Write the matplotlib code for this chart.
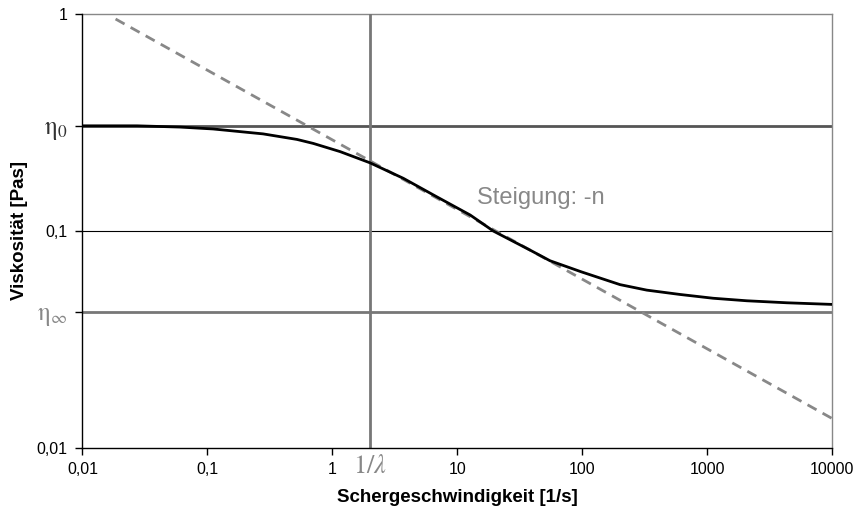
import matplotlib
matplotlib.use("Agg")
import matplotlib.pyplot as plt
from matplotlib.ticker import FixedLocator, NullLocator

plt.rcParams['font.family'] = ['Liberation Sans', 'DejaVu Sans']
plt.rcParams['mathtext.fontset'] = 'stix'

# Data
shear_rate = [0.01, 0.0273, 0.0603, 0.111, 0.279, 0.521, 0.704, 1.153, 2.0, 3.70,
              6.85, 12.7, 19.45, 38.3, 55.3, 98.6, 201, 329, 607, 1116,
              2080, 4346, 10000]
viscosity = [0.305, 0.305, 0.301, 0.295, 0.280, 0.264, 0.253, 0.232, 0.206, 0.1747,
             0.1436, 0.1183, 0.0998, 0.0815, 0.0728, 0.0647, 0.0565, 0.0533,
             0.0509, 0.0489, 0.0476, 0.0466, 0.0458]
powerlaw_x = [0.0184, 10000]
powerlaw_y = [0.948, 0.01365]
eta0 = 0.305
eta_inf = 0.0423
inv_lambda = 2.0

xticks = [0.01, 0.1, 1, 10, 100, 1000, 10000]
xticklabels = ['0,01', '0,1', '1', '10', '100', '1000', '10000']
yticks = [0.01, eta_inf, 0.1, eta0, 1]
yticklabels = ['0,01', r'$\mathrm{\eta}_{\infty}$', '0,1', r'$\mathrm{\eta}_0$', '1']

fig = plt.figure(figsize=(8.62, 5.16), dpi=100)
ax = fig.add_axes([0.0957, 0.1323, 0.8695, 0.8406])
ax.set_xscale('log')
ax.set_yscale('log')
ax.set_xlim(0.01, 10000)
ax.set_ylim(0.01, 1)

ax.axhline(0.1, color='black', lw=0.8, zorder=1)
ax.axhline(1, color='#888888', lw=1.0, zorder=1, clip_on=False)
ax.axhline(eta0, color='#555555', lw=2, zorder=2)
ax.axhline(eta_inf, color='#777777', lw=2, zorder=2)
ax.axvline(inv_lambda, color='#777777', lw=2, zorder=2)

ax.plot(powerlaw_x, powerlaw_y, color='#888888', lw=2, ls=(0, (3.7, 2.5)), zorder=3)
ax.plot(shear_rate, viscosity, color='black', lw=2, zorder=4)

ax.text(14.4, 0.1417, 'Steigung: -n', color='#888888', fontsize=17, va='center', ha='left')

ax.xaxis.set_major_locator(FixedLocator(xticks))
ax.xaxis.set_minor_locator(NullLocator())
ax.set_xticklabels(xticklabels)
ax.yaxis.set_major_locator(FixedLocator(yticks))
ax.yaxis.set_minor_locator(NullLocator())
ax.set_yticklabels(yticklabels)

ax.tick_params(axis='both', direction='out', length=5, width=1, labelsize=11.5, color='black')
ax.tick_params(axis='x', pad=5)
ax.tick_params(axis='y', pad=6)
for lbl, c in zip(ax.get_yticklabels(), ['black', '#888888', 'black', '#333333', 'black']):
    lbl.set_color(c)
    if lbl.get_text().startswith('$'):
        lbl.set_fontsize(18)

ax.text(inv_lambda, -0.015, r'$1/\lambda$', transform=ax.get_xaxis_transform(),
        ha='center', va='top', color='#888888', fontsize=19)

ax.spines['top'].set_visible(False)
ax.spines['right'].set_color('#888888')
ax.spines['right'].set_linewidth(1.0)
ax.spines['left'].set_linewidth(1.0)
ax.spines['bottom'].set_linewidth(1.0)

ax.set_xlabel('Schergeschwindigkeit [1/s]', fontsize=13.5, fontweight='bold', labelpad=9)
ax.set_ylabel('Viskosität [Pas]', fontsize=13.5, fontweight='bold', labelpad=6)

fig.savefig('out.png', dpi=100)
